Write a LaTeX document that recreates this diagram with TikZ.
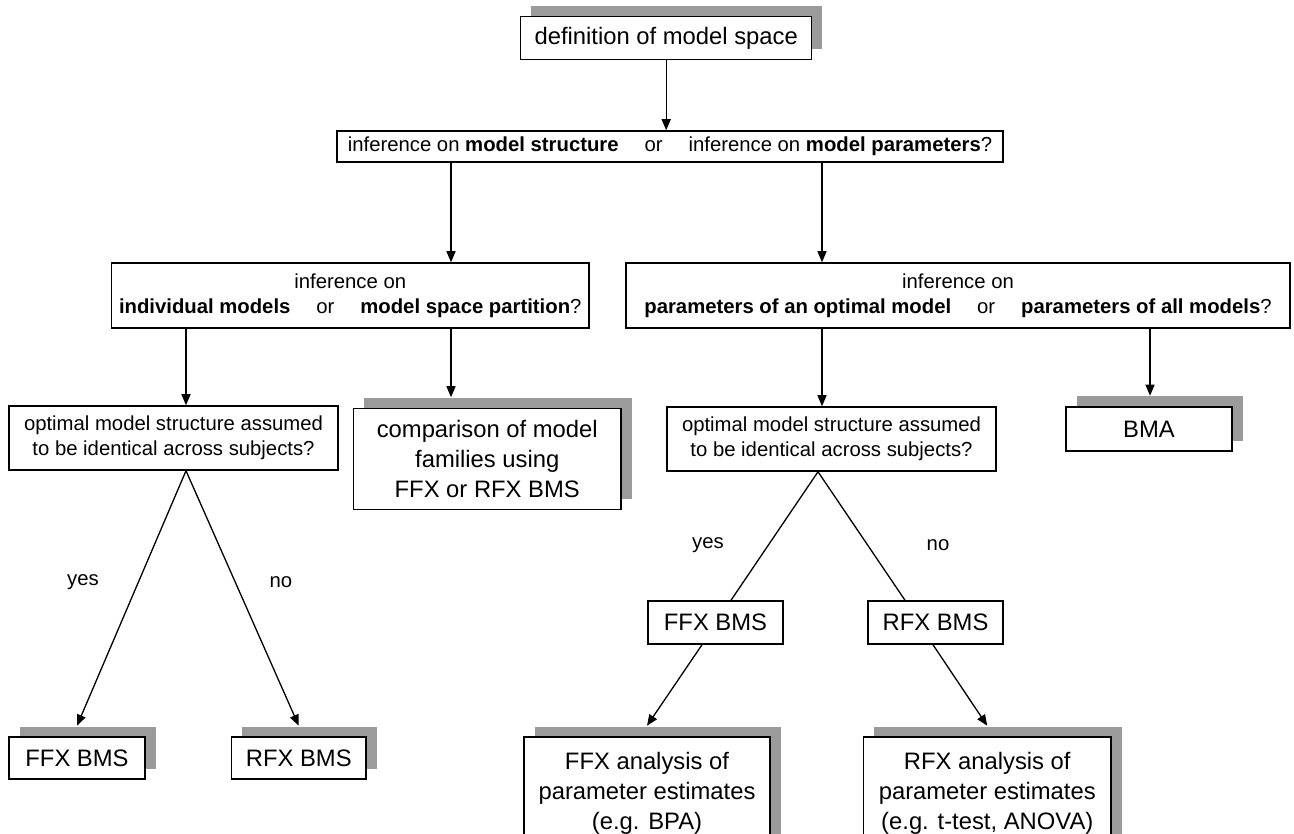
\documentclass[tikz,border=0pt]{standalone}
\usepackage{fontspec}
\setmainfont{Liberation Sans}
\usetikzlibrary{arrows.meta,shadows}
\definecolor{shadowgray}{RGB}{155,155,155}
\begin{document}
\begin{tikzpicture}[x=1pt,y=-1pt,
  box/.style={draw=black,line width=1.5pt,fill=white,rectangle,inner sep=0pt,align=center,text=black},
  big/.style={font=\fontsize{23.8}{30}\selectfont},
  small/.style={font=\fontsize{20.3}{25}\selectfont},
  shade/.style={general shadow={fill=shadowgray,draw=none,shadow xshift=10.5pt,shadow yshift=10.5pt}},
  arr/.style={line width=1.3pt,-{Triangle[length=11pt,width=9pt]}},
  ln/.style={line width=1.3pt},
  lab/.style={font=\fontsize{20.3}{25}\selectfont,inner sep=0pt}]
\useasboundingbox (0,0) rectangle (1294,834);
\clip (0,0) rectangle (1294,834);
% nodes
\node[box,big,shade,minimum width=291pt,minimum height=42.6pt] (top) at (666.2,38) {definition of model space};
\node[box,small,minimum width=666pt,minimum height=31pt] (q0) at (670,146.5) {inference on \textbf{model structure}\hspace{1em} or \hspace{1em}inference on \textbf{model parameters}?};
\node[box,small,minimum width=477.5pt,minimum height=65pt] (L1) at (350.25,295.5) {inference on\\\textbf{individual models}\hspace{1em} or \hspace{1em}\textbf{model space partition}?};
\node[box,small,minimum width=664pt,minimum height=65pt] (R1) at (958,295.5) {inference on\\\textbf{parameters of an optimal model}\hspace{1em} or \hspace{1em}\textbf{parameters of all models}?};
\node[box,small,minimum width=329pt,minimum height=64pt] (QL) at (173.5,438) {optimal model structure assumed\\to be identical across subjects?};
\node[box,big,shade,minimum width=267.5pt,minimum height=101pt] (CMP) at (487.25,459) {comparison of model\\families using\\FFX or RFX BMS};
\node[box,small,minimum width=329pt,minimum height=64pt] (QR) at (831.5,439) {optimal model structure assumed\\to be identical across subjects?};
\node[box,big,shade,minimum width=166pt,minimum height=44pt] (BMA) at (1149,429) {BMA};
\node[box,big,minimum width=135pt,minimum height=43pt] (FFXm) at (715.5,622.5) {FFX BMS};
\node[box,big,minimum width=135pt,minimum height=43pt] (RFXm) at (935.5,622.5) {RFX BMS};
\node[box,big,shade,minimum width=136pt,minimum height=42pt] (FFXl) at (77,758) {FFX BMS};
\node[box,big,shade,minimum width=134.5pt,minimum height=42pt] (RFXl) at (298.75,758) {RFX BMS};
\node[box,big,shade,minimum width=246pt,minimum height=113pt] (FFXa) at (647,793.5) {FFX analysis of\\parameter estimates\\(e.g. BPA)};
\node[box,big,shade,minimum width=247.5pt,minimum height=113pt] (RFXa) at (987.25,793.5) {RFX analysis of\\parameter estimates\\(e.g. t-test, ANOVA)};
% helper coordinates
\coordinate (xa) at (451,0);
\coordinate (xb) at (822,0);
\coordinate (xc) at (186,0);
\coordinate (xd) at (1150,0);
\coordinate (xe) at (818,0);
\coordinate (xf) at (731,0);
\coordinate (xg) at (905,0);
\coordinate (xh) at (702,0);
\coordinate (xi) at (933,0);
% connectors
\draw[arr] (top.south) -- (q0.north -| top.south);
\draw[arr] (q0.south -| xa) -- (L1.north -| xa);
\draw[arr] (q0.south -| xb) -- (R1.north -| xb);
\draw[arr] (L1.south -| xc) -- (QL.north -| xc);
\draw[arr] (L1.south -| xa) -- ([yshift=10.5pt]CMP.north -| xa);
\draw[arr] (R1.south -| xb) -- (QR.north -| xb);
\draw[arr] (R1.south -| xd) -- ([yshift=10.5pt]BMA.north -| xd);
\draw[arr] (QL.south -| xc) -- ([yshift=10.5pt]FFXl.north);
\draw[arr] (QL.south -| xc) -- ([yshift=10.5pt]RFXl.north);
\draw[ln] (QR.south -| xe) -- (FFXm.north -| xf);
\draw[ln] (QR.south -| xe) -- (RFXm.north -| xg);
\draw[arr] (FFXm.south -| xh) -- ([yshift=10.5pt]FFXa.north);
\draw[arr] (RFXm.south -| xi) -- ([yshift=10.5pt]RFXa.north);
% labels
\node[lab] (yl) at (83,582) {yes};
\node[lab] (nl) at (281,582) {no};
\node[lab] (yr) at (708,545) {yes};
\node[lab] (nr) at (938,545) {no};
\end{tikzpicture}
\end{document}
